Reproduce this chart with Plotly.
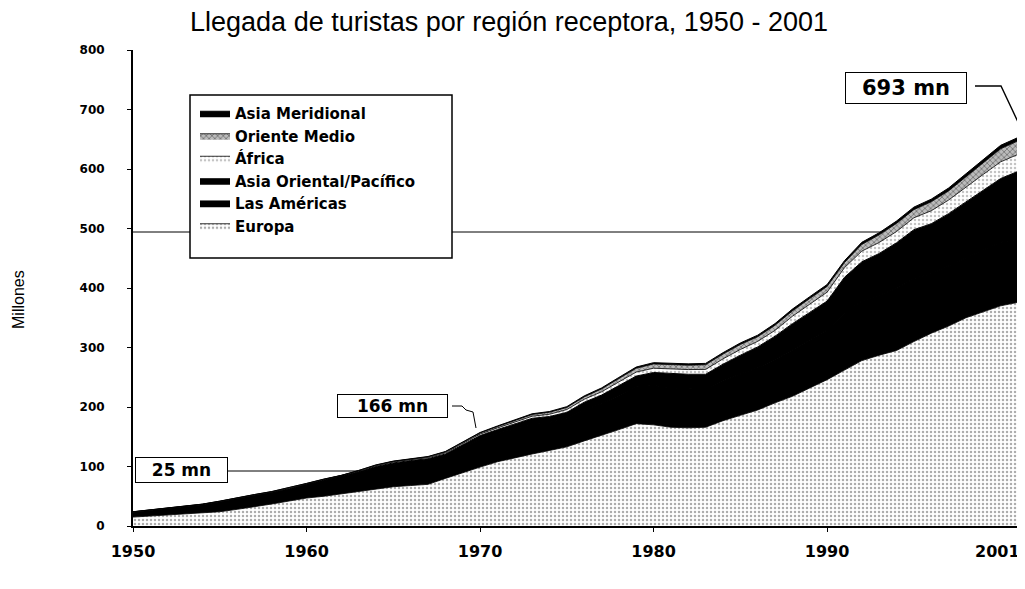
import plotly.graph_objects as go

years = list(range(1950, 2002))

europa = [15, 17, 19, 21, 22, 24, 28, 32, 37, 42,
          47, 50, 54, 58, 63, 66, 68, 70, 80, 90,
          99, 108, 115, 121, 127, 133, 143, 152, 162, 172,
          170, 166, 165, 166, 177, 186, 195, 207, 218, 232,
          246, 262, 278, 287, 295, 310, 324, 336, 350, 360,
          370, 376]
americas = [8.0, 9.2, 10.1, 11.5, 13.4, 16.3, 18.2, 19.1, 19.0, 19.9,
            22.2, 26.0, 27.8, 31.5, 35.2, 37.8, 39.4, 39.9, 37.4, 41.7,
            46.8, 47.0, 48.1, 51.0, 47.5, 47.2, 52.0, 53.5, 57.5, 61.5,
            66.0, 66.5, 65.5, 63.0, 66.5, 69.5, 71.0, 73.0, 78.0, 81.0,
            83.5, 96.0, 100.0, 101.0, 104.0, 106.0, 100.0, 101.0, 101.0, 104.0,
            107.0, 106.0]
asia_oriental = [0.2, 0.2, 0.3, 0.3, 0.4, 0.4, 0.5, 0.5, 0.6, 0.7,
                 0.8, 1.0, 1.2, 1.5, 1.8, 2.2, 2.6, 3.1, 3.6, 4.3,
                 6.2, 7.0, 7.9, 9.0, 9.5, 10.8, 13.0, 14.5, 16.5, 18.5,
                 22.0, 23.5, 24.5, 26.0, 28.5, 31.5, 35.0, 39.0, 44.0, 46.0,
                 48.5, 60.0, 66.0, 70.0, 77.0, 82.0, 84.0, 88.0, 94.0, 101.0,
                 107.0, 114.0]
africa = [0.5, 0.5, 0.5, 0.6, 0.6, 0.6, 0.7, 0.7, 0.7, 0.8,
          0.8, 0.9, 1.0, 1.1, 1.2, 1.3, 1.5, 1.6, 1.8, 2.1,
          2.4, 2.8, 3.2, 3.5, 3.8, 4.7, 5.0, 5.5, 6.2, 6.7,
          7.2, 7.9, 7.9, 8.2, 8.9, 9.7, 9.3, 9.8, 12.5, 13.8,
          15.0, 16.2, 18.0, 18.5, 18.9, 20.0, 21.8, 22.8, 24.8, 26.0,
          28.0, 28.6]
oriente_medio = [0.2, 0.2, 0.3, 0.3, 0.3, 0.4, 0.4, 0.5, 0.5, 0.6,
                 0.6, 0.7, 0.8, 1.0, 1.1, 1.3, 1.5, 1.6, 1.7, 1.8,
                 1.9, 2.3, 2.6, 2.9, 3.3, 3.5, 4.0, 4.8, 5.6, 6.4,
                 7.1, 7.5, 7.3, 7.8, 8.0, 8.4, 7.8, 8.6, 9.0, 9.5,
                 9.6, 8.5, 11.2, 12.8, 13.7, 13.7, 15.1, 15.4, 17.5, 19.0,
                 22.0, 22.6]
asia_meridional = [0.1, 0.1, 0.1, 0.1, 0.1, 0.1, 0.1, 0.1, 0.2, 0.2,
                   0.2, 0.3, 0.3, 0.3, 0.4, 0.5, 0.5, 0.6, 0.7, 0.8,
                   0.9, 1.0, 1.1, 1.2, 1.3, 1.4, 1.6, 1.7, 1.9, 2.1,
                   2.2, 2.3, 2.3, 2.3, 2.4, 2.5, 2.6, 2.8, 3.0, 3.1,
                   3.2, 3.2, 3.6, 3.6, 3.9, 4.2, 4.4, 4.8, 5.0, 5.4,
                   5.8, 5.7]

tick_years = [1950, 1960, 1970, 1980, 1990, 2001]
tick_labels = ["1950", "1960", "1970", "1980", "1990", "2001"]
y_ticks = [0, 100, 200, 300, 400, 500, 600, 700, 800]

TFONT = "Arial, Liberation Sans, sans-serif"
BFONT = "DejaVu Sans, Arial, sans-serif"

series = [
    ("Europa", europa, 0.8, dict(fillcolor="#eeeeee",
                                 fillpattern=dict(shape=".", fgcolor="#5a5a5a", bgcolor="#ffffff",
                                                  size=4, solidity=0.3))),
    ("Las Américas", americas, 1.6, dict(fillcolor="#000000")),
    ("Asia Oriental/Pacífico", asia_oriental, 1.0, dict(fillcolor="#000000")),
    ("África", africa, 0.8, dict(fillcolor="#eeeeee",
                                 fillpattern=dict(shape=".", fgcolor="#888888", bgcolor="#ffffff",
                                                  size=4, solidity=0.3))),
    ("Oriente Medio", oriente_medio, 0.8, dict(fillcolor="#aaaaaa",
                                               fillpattern=dict(shape="x", fgcolor="#333333", bgcolor="#bbbbbb",
                                                                size=4, solidity=0.4))),
    ("Asia Meridional", asia_meridional, 1.0, dict(fillcolor="#000000")),
]

fig = go.Figure()
for name, vals, lw, style in series:
    fig.add_trace(go.Scatter(
        x=years, y=vals, name=name, mode="lines",
        stackgroup="one", line=dict(color="#000000", width=lw),
        **style))

# The page body has an 8px margin, so the figure is drawn at (8, 8).
OFF = 8
PAGE_W, PAGE_H = 1025, 589
W, H = PAGE_W - OFF, PAGE_H - OFF
PLOT_L, PLOT_R, PLOT_T, PLOT_B = 133, 1018, 50, 526   # page pixel coords of plot area
L, R, T, B = PLOT_L - OFF, PAGE_W - PLOT_R, PLOT_T - OFF, PAGE_H - PLOT_B
pw = PLOT_R - PLOT_L
ph = PLOT_B - PLOT_T


def xd(px):
    return 1950 + (px - PLOT_L) / pw * (2001 - 1950)


def yd(py):
    return (PLOT_B - py) / ph * 800


def xp(px):
    return (px - PLOT_L) / pw


def yp(py):
    return (PLOT_B - py) / ph


shapes = [
    dict(type="line", xref="x", yref="y", x0=1950, x1=xd(882), y0=yd(232), y1=yd(232),
         line=dict(color="#000000", width=1), layer="above"),
    dict(type="rect", xref="paper", yref="paper", x0=xp(190), x1=xp(452), y0=yp(258), y1=yp(95),
         fillcolor="#ffffff", line=dict(color="#000000", width=1.5), layer="above"),
    dict(type="line", xref="x", yref="y", x0=xd(228), x1=xd(362), y0=yd(471), y1=yd(471),
         line=dict(color="#000000", width=1), layer="above"),
    dict(type="path", xref="x", yref="y",
         path=(f"M {xd(452)} {yd(406)} L {xd(462)} {yd(406)} L {xd(466)} {yd(410)} "
               f"L {xd(473)} {yd(412)} L {xd(476)} {yd(428)}"),
         line=dict(color="#000000", width=1), layer="above"),
    dict(type="path", xref="x", yref="y",
         path=f"M {xd(975)} {yd(86)} L {xd(1001)} {yd(86)} L {xd(1018)} {yd(122)}",
         line=dict(color="#000000", width=1.4), layer="above"),
]

annotations = [
    dict(text="<b>25 mn</b>", x=xd(181.5), y=yd(470), xref="x", yref="y", showarrow=False,
         font=dict(family=BFONT, size=17, color="#000"), bgcolor="#ffffff",
         bordercolor="#000000", borderwidth=1, width=89, height=22, borderpad=1),
    dict(text="<b>166 mn</b>", x=xd(392.5), y=yd(406), xref="x", yref="y", showarrow=False,
         font=dict(family=BFONT, size=17, color="#000"), bgcolor="#ffffff",
         bordercolor="#000000", borderwidth=1, width=107, height=20, borderpad=1),
    dict(text="<b>693 mn</b>", x=xd(906), y=yd(88), xref="x", yref="y", showarrow=False,
         font=dict(family=BFONT, size=21, color="#000"), bgcolor="#ffffff",
         bordercolor="#000000", borderwidth=1, width=118, height=28, borderpad=1),
    dict(text="Millones", x=xp(18), y=yp(300), xref="paper", yref="paper", showarrow=False,
         xanchor="center", yanchor="middle",
         textangle=-90, font=dict(family=TFONT, size=16, color="#000")),
    # last year label, kept fully inside the page at the right edge
    dict(text="<b>" + tick_labels[-1] + "</b>", x=xp(1022), y=yp(551), xref="paper", yref="paper",
         showarrow=False, xanchor="right", yanchor="middle",
         font=dict(family=BFONT, size=16, color="#000")),
]

fig.update_layout(
    width=W, height=H,
    margin=dict(l=L, r=R, t=T, b=B),
    paper_bgcolor="#ffffff", plot_bgcolor="#ffffff",
    title=dict(text="Llegada de turistas por región receptora, 1950 - 2001",
               x=(509 - OFF) / W, xref="container", xanchor="center",
               y=1 - (22 - OFF) / H, yref="container", yanchor="middle",
               font=dict(family=TFONT, size=27, color="#000")),
    showlegend=True,
    legend=dict(x=xp(195), y=yp(97), xanchor="left", yanchor="top",
                bgcolor="rgba(0,0,0,0)", borderwidth=0, traceorder="reversed",
                font=dict(family=BFONT, size=15, color="#000", weight="bold"),
                itemwidth=30, tracegroupgap=0),
    shapes=shapes,
    annotations=annotations,
    xaxis=dict(range=[1950, 2001], tickvals=tick_years, ticktext=tick_labels[:-1] + [""],
               showgrid=False, zeroline=False, showline=True, linecolor="#000", linewidth=2,
               ticks="outside", ticklen=4, tickcolor="#000", ticklabelstandoff=6,
               automargin=False,
               tickfont=dict(family=BFONT, size=16, color="#000", weight="bold")),
    yaxis=dict(range=[0, 800], tickvals=y_ticks, showgrid=False, zeroline=False,
               showline=True, linecolor="#000", linewidth=2, automargin=False,
               ticks="outside", ticklen=4, tickcolor="#000", ticklabelstandoff=20,
               tickfont=dict(family=BFONT, size=12, color="#000", weight="bold")),
)

fig.write_html("out.html")
